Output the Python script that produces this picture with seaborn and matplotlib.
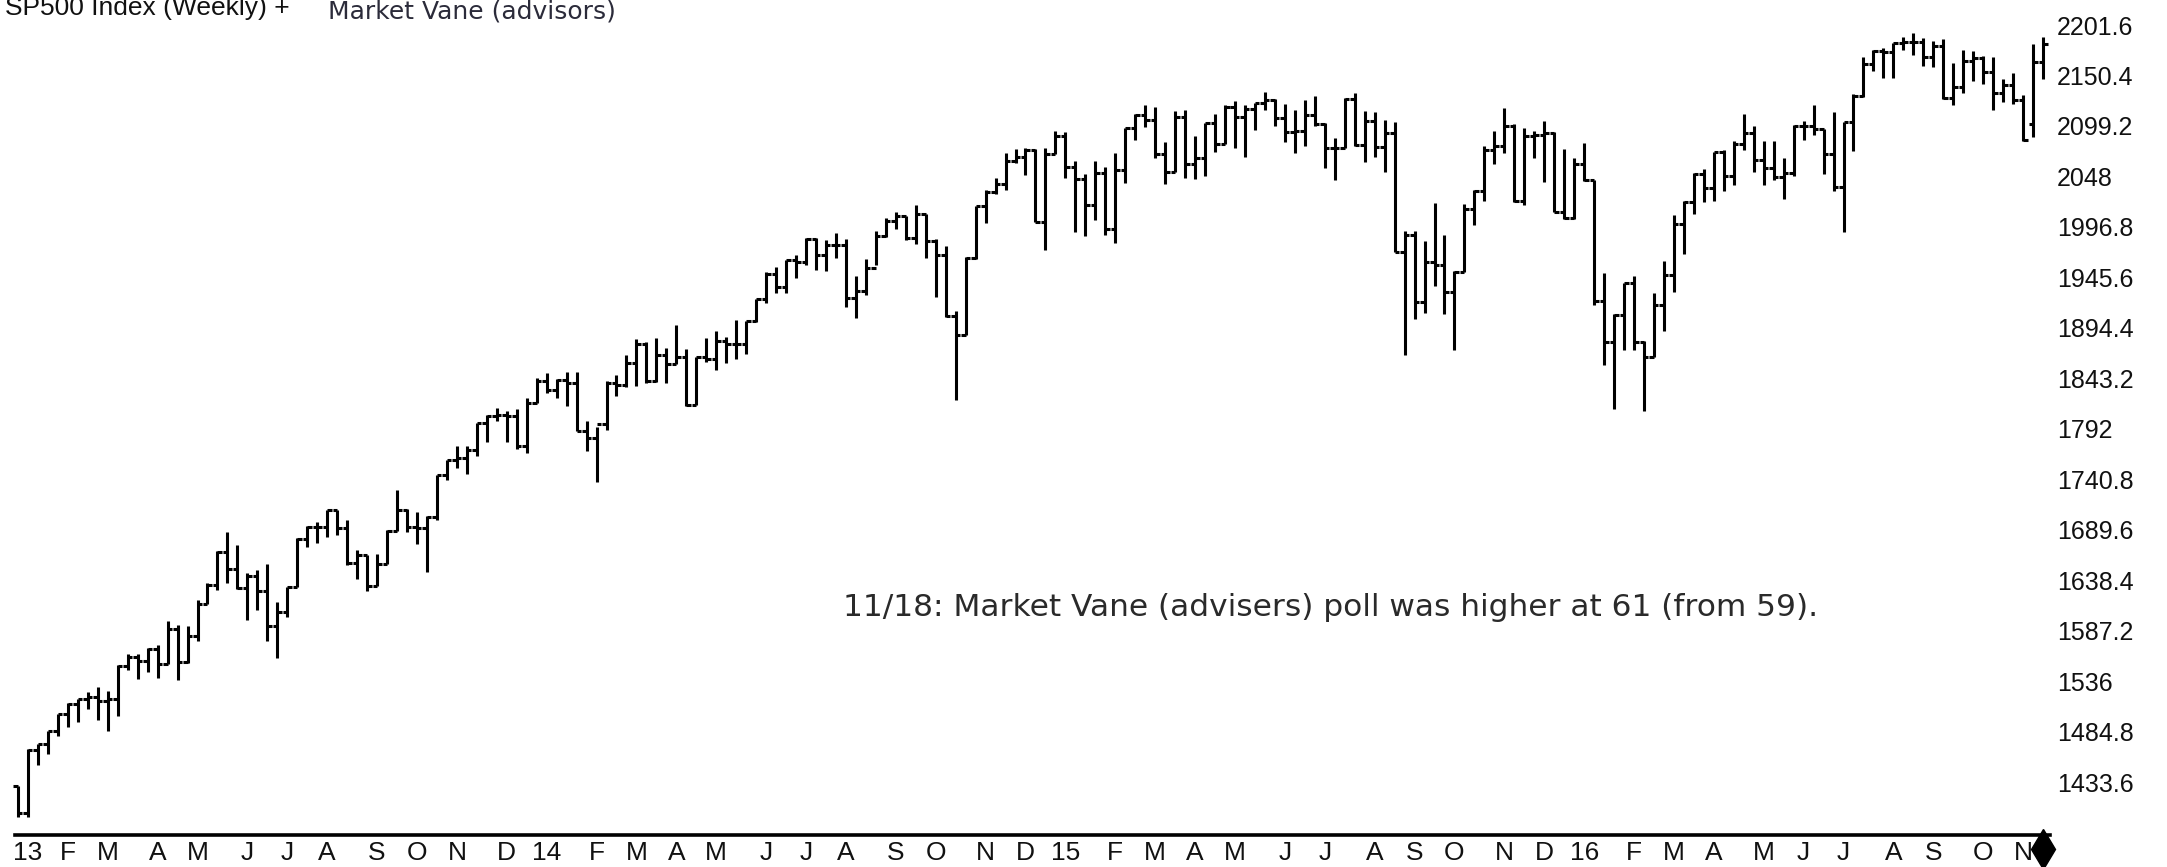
import numpy as np
import pandas as pd
import seaborn as sns
import matplotlib
matplotlib.use("Agg")
import matplotlib.pyplot as plt
import matplotlib.transforms as mtransforms

# weekly bars, Friday dates, 2012-12-28 .. 2016-11-18
first_week = "2012-12-28"
n_weeks = 204

opens = [
    1430, 1402, 1466, 1472, 1486, 1503, 1513, 1518, 1520, 1516,
    1518, 1551, 1561, 1557, 1569, 1553, 1589, 1555, 1582, 1614,
    1634, 1667, 1650, 1631, 1643, 1627, 1592, 1606, 1632, 1680,
    1692, 1692, 1710, 1691, 1656, 1664, 1633, 1655, 1688, 1710,
    1692, 1691, 1703, 1745, 1760, 1762, 1771, 1798, 1805, 1806,
    1805, 1775, 1818, 1841, 1831, 1842, 1839, 1790, 1783, 1797,
    1839, 1836, 1859, 1878, 1841, 1867, 1858, 1865, 1816, 1865,
    1863, 1881, 1878, 1878, 1901, 1924, 1949, 1936, 1963, 1961,
    1985, 1968, 1978, 1978, 1925, 1932, 1955, 1988, 2003, 2008,
    1986, 2010, 1983, 1968, 1906, 1887, 1965, 2018, 2032, 2040,
    2064, 2068, 2075, 2002, 2071, 2089, 2058, 2045, 2019, 2052,
    1995, 2055, 2097, 2110, 2105, 2071, 2053, 2108, 2061, 2067,
    2102, 2081, 2118, 2108, 2116, 2123, 2126, 2107, 2093, 2094,
    2110, 2101, 2077, 2077, 2127, 2080, 2104, 2078, 2092, 1971,
    1989, 1921, 1961, 1958, 1931, 1951, 2015, 2033, 2075, 2079,
    2099, 2023, 2089, 2090, 2092, 2012, 2006, 2061, 2044, 1922,
    1880, 1907, 1940, 1880, 1865, 1918, 1948, 2000, 2022, 2050,
    2036, 2073, 2048, 2081, 2092, 2065, 2057, 2047, 2052, 2099,
    2099, 2096, 2071, 2037, 2103, 2130, 2162, 2175, 2174, 2183,
    2184, 2184, 2169, 2180, 2128, 2139, 2165, 2168, 2154, 2133,
    2141, 2126, 2101, 2164,
]
highs = [
    1430, 1467, 1472, 1486, 1503, 1514, 1518, 1525, 1530, 1526,
    1552, 1564, 1564, 1570, 1573, 1597, 1593, 1592, 1618, 1636,
    1668, 1687, 1674, 1646, 1649, 1655, 1616, 1632, 1681, 1693,
    1698, 1710, 1710, 1700, 1669, 1664, 1665, 1689, 1730, 1711,
    1708, 1704, 1745, 1760, 1775, 1775, 1798, 1806, 1813, 1810,
    1812, 1823, 1844, 1849, 1843, 1850, 1850, 1800, 1794, 1841,
    1847, 1867, 1883, 1880, 1884, 1874, 1897, 1873, 1865, 1884,
    1891, 1885, 1902, 1901, 1924, 1951, 1956, 1963, 1968, 1986,
    1986, 1984, 1991, 1985, 1947, 1964, 1993, 2006, 2012, 2008,
    2019, 2010, 1985, 1977, 1912, 1966, 2018, 2034, 2046, 2072,
    2076, 2077, 2076, 2077, 2094, 2093, 2064, 2050, 2064, 2058,
    2072, 2097, 2111, 2120, 2118, 2083, 2114, 2115, 2089, 2102,
    2111, 2120, 2125, 2120, 2123, 2134, 2127, 2121, 2115, 2126,
    2130, 2102, 2087, 2128, 2133, 2114, 2113, 2105, 2103, 1993,
    1993, 1983, 2021, 1989, 1952, 2020, 2034, 2079, 2094, 2117,
    2101, 2097, 2094, 2104, 2093, 2076, 2067, 2082, 2044, 1950,
    1908, 1940, 1947, 1881, 1930, 1962, 2009, 2023, 2052, 2056,
    2073, 2075, 2084, 2111, 2099, 2084, 2084, 2067, 2100, 2104,
    2120, 2096, 2113, 2103, 2132, 2169, 2176, 2178, 2183, 2189,
    2194, 2188, 2185, 2187, 2163, 2176, 2175, 2170, 2169, 2147,
    2153, 2131, 2182, 2189,
]
lows = [
    1398, 1398, 1451, 1462, 1480, 1490, 1495, 1508, 1497, 1485,
    1501, 1547, 1538, 1545, 1539, 1553, 1537, 1554, 1577, 1614,
    1629, 1636, 1630, 1598, 1608, 1577, 1560, 1601, 1632, 1672,
    1676, 1682, 1684, 1654, 1640, 1628, 1633, 1655, 1688, 1687,
    1675, 1647, 1700, 1740, 1752, 1746, 1764, 1779, 1800, 1779,
    1772, 1767, 1818, 1828, 1823, 1815, 1790, 1770, 1738, 1791,
    1825, 1834, 1835, 1839, 1840, 1839, 1858, 1815, 1816, 1860,
    1852, 1859, 1863, 1868, 1900, 1920, 1930, 1930, 1945, 1958,
    1953, 1952, 1965, 1916, 1904, 1928, 1958, 1987, 1995, 1984,
    1979, 1965, 1926, 1905, 1821, 1887, 1964, 2001, 2030, 2034,
    2062, 2049, 2002, 1973, 2071, 2046, 1992, 1988, 2004, 1989,
    1981, 2041, 2085, 2098, 2067, 2040, 2053, 2046, 2045, 2048,
    2073, 2081, 2077, 2068, 2095, 2115, 2099, 2083, 2072, 2079,
    2099, 2057, 2044, 2077, 2079, 2063, 2068, 2053, 1971, 1867,
    1903, 1910, 1937, 1908, 1872, 1951, 1999, 2023, 2061, 2072,
    2022, 2019, 2067, 2042, 2012, 2005, 2005, 2043, 1918, 1857,
    1812, 1872, 1872, 1810, 1865, 1891, 1931, 1969, 2010, 2022,
    2023, 2033, 2039, 2075, 2053, 2039, 2044, 2025, 2048, 2085,
    2090, 2050, 2033, 1992, 2074, 2129, 2155, 2148, 2148, 2176,
    2171, 2160, 2159, 2127, 2120, 2133, 2145, 2142, 2115, 2124,
    2122, 2084, 2088, 2147,
]
closes = [
    1402, 1466, 1472, 1486, 1503, 1513, 1518, 1520, 1516, 1518,
    1551, 1561, 1557, 1569, 1553, 1589, 1555, 1582, 1614, 1634,
    1667, 1650, 1631, 1643, 1627, 1592, 1606, 1632, 1680, 1692,
    1692, 1710, 1691, 1656, 1664, 1633, 1655, 1688, 1710, 1692,
    1691, 1703, 1745, 1760, 1762, 1771, 1798, 1805, 1806, 1805,
    1775, 1818, 1841, 1831, 1842, 1839, 1790, 1783, 1797, 1839,
    1836, 1859, 1878, 1841, 1867, 1858, 1865, 1816, 1865, 1863,
    1881, 1878, 1878, 1901, 1924, 1949, 1936, 1963, 1961, 1985,
    1968, 1978, 1978, 1925, 1932, 1955, 1988, 2003, 2008, 1986,
    2010, 1983, 1968, 1906, 1887, 1965, 2018, 2032, 2040, 2064,
    2068, 2075, 2002, 2071, 2089, 2058, 2045, 2019, 2052, 1995,
    2055, 2097, 2110, 2105, 2071, 2053, 2108, 2061, 2067, 2102,
    2081, 2118, 2108, 2116, 2123, 2126, 2107, 2093, 2094, 2110,
    2101, 2077, 2077, 2127, 2080, 2104, 2078, 2092, 1971, 1989,
    1921, 1961, 1958, 1931, 1951, 2015, 2033, 2075, 2079, 2099,
    2023, 2089, 2090, 2092, 2012, 2006, 2061, 2044, 1922, 1880,
    1907, 1940, 1880, 1865, 1918, 1948, 2000, 2022, 2050, 2036,
    2073, 2048, 2081, 2092, 2065, 2057, 2047, 2052, 2099, 2099,
    2096, 2071, 2037, 2103, 2130, 2162, 2175, 2174, 2183, 2184,
    2184, 2169, 2180, 2128, 2139, 2165, 2168, 2154, 2133, 2141,
    2126, 2085, 2164, 2182,
]

y_ticks = [1433.6, 1484.8, 1536, 1587.2, 1638.4, 1689.6, 1740.8, 1792,
           1843.2, 1894.4, 1945.6, 1996.8, 2048, 2099.2, 2150.4, 2201.6]
month_letters = ["", "F", "M", "A", "M", "J", "J", "A", "S", "O", "N", "D"]

title_left = "SP500 Index (Weekly) +"
title_right = "Market Vane (advisors)"
note = "11/18: Market Vane (advisers) poll was higher at 61 (from 59)."

NARROW = ["Liberation Sans Narrow", "Liberation Sans", "DejaVu Sans"]

df = pd.DataFrame({
    "date": pd.date_range(first_week, periods=n_weeks, freq="W-FRI"),
    "open": opens, "high": highs, "low": lows, "close": closes,
})
df["i"] = np.arange(len(df))

# first bar of every month -> tick (the lone Dec 2012 bar gets none)
firsts = df.groupby([df.date.dt.year, df.date.dt.month]).head(1)
firsts = firsts[firsts.date.dt.year > 2012]
tick_pos = firsts["i"].tolist()
tick_lab = [f"{d.year % 100:02d}" if d.month == 1 else month_letters[d.month - 1]
            for d in firsts["date"]]

sns.set_theme(style="white")
plt.rcParams["font.family"] = ["DejaVu Sans"]

W, H = 2167, 867
fig = plt.figure(figsize=(W / 100, H / 100), dpi=100)
fig.patch.set_facecolor("white")
ax = fig.add_axes([0, 32 / H, 2050 / W, 835 / H])
ax.set_facecolor("white")

x = df["i"].to_numpy()
lw = 2.2
ax.vlines(x, df["low"], df["high"], color="black", lw=lw)
ax.hlines(df["open"], x - 0.45, x, color="black", lw=lw)
ax.hlines(df["close"], x, x + 0.45, color="black", lw=lw)

ax.set_xlim(-1.8, 203.7)
ax.set_ylim(1380, 2227)

for s in ["top", "left", "right"]:
    ax.spines[s].set_visible(False)
ax.spines["bottom"].set_color("black")
ax.spines["bottom"].set_linewidth(2.6)
ax.spines["bottom"].set_bounds(-0.3, 203.7)

ax.yaxis.tick_right()
ax.set_yticks(y_ticks)
ax.set_yticklabels([f"{v:g}" for v in y_ticks])
ax.tick_params(axis="y", length=0, pad=5, labelsize=18, labelcolor="#111111")

ax.set_xticks(tick_pos)
ax.set_xticklabels(tick_lab)
ax.tick_params(axis="x", length=6, width=1.6, direction="out", pad=-1.5,
               labelsize=19, color="black", labelcolor="#111111")
for lab in ax.get_xticklabels() + ax.get_yticklabels():
    lab.set_family(NARROW)

# end-of-data marker on the axis line
trans = mtransforms.blended_transform_factory(ax.transData, ax.transAxes)
ax.plot([x[-1]], [-0.017], marker="d", ms=20, color="black",
        transform=trans, clip_on=False)

ax.grid(False)

fig.text(5 / W, 1 - 15 / H, title_left, family=NARROW, fontsize=19,
         color="#111111", va="baseline", ha="left")
fig.text(328 / W, 1 - 18 / H, title_right, fontsize=18,
         color="#2b2b3a", va="baseline", ha="left")

fig.text(843 / W, 1 - 608 / H, note, fontsize=22.5, color="#2a2a2a",
         va="center", ha="left")

fig.savefig("out.png", dpi=100, facecolor="white")
plt.close(fig)
